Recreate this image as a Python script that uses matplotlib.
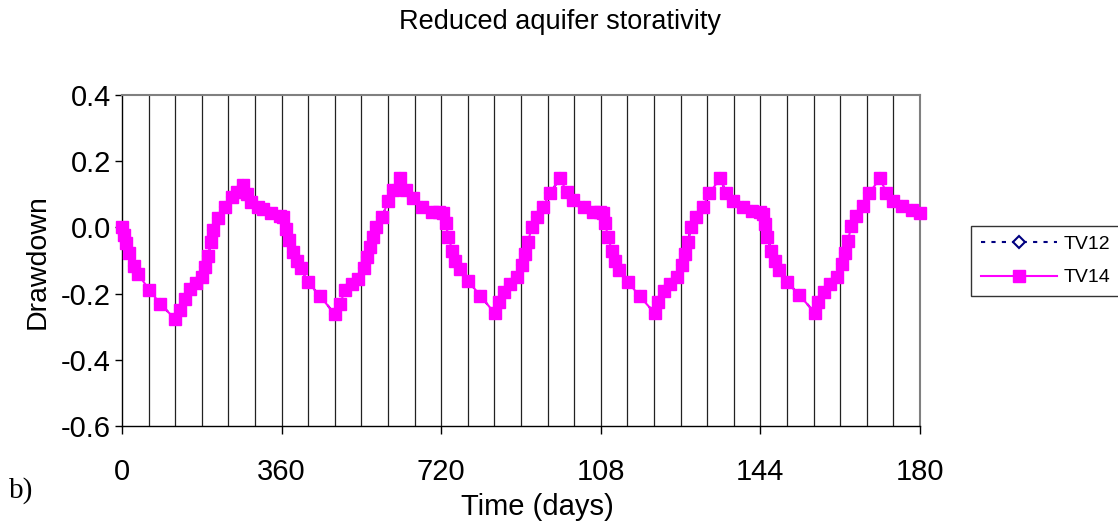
import matplotlib
matplotlib.use("Agg")
import matplotlib.pyplot as plt
from matplotlib.lines import Line2D

# ---------------- data ----------------
cycle1_t = [0, 5, 9, 16, 26, 36, 62, 86, 120, 131, 142, 153, 168, 180, 188, 195, 200, 206, 217, 232, 247, 259, 274, 282, 292, 306, 318, 336, 356]
cycle1_v = [0.000, -0.024, -0.047, -0.078, -0.118, -0.140, -0.190, -0.230, -0.278, -0.250, -0.215, -0.185, -0.168, -0.150, -0.120, -0.085, -0.045, -0.008, 0.027, 0.063, 0.093, 0.108, 0.128, 0.100, 0.078, 0.062, 0.055, 0.042, 0.034]

cycle2_t = [364, 371, 377, 386, 395, 404, 420, 447, 480, 492, 503, 518, 533, 545, 553, 559, 566, 574, 586, 601, 612, 628, 641, 657, 676, 699, 716]
cycle2_v = [0.030, -0.004, -0.038, -0.073, -0.100, -0.124, -0.166, -0.208, -0.262, -0.230, -0.190, -0.170, -0.155, -0.122, -0.088, -0.058, -0.028, 0.002, 0.030, 0.080, 0.113, 0.148, 0.113, 0.088, 0.063, 0.048, 0.047]

cycle3_t = [725, 730, 736, 745, 752, 762, 781, 808, 841, 850, 862, 876, 892, 903, 910, 916, 924, 935, 950, 965, 988, 1003, 1018, 1041, 1063, 1078]
cycle3_v = [0.045, 0.012, -0.028, -0.070, -0.100, -0.125, -0.162, -0.206, -0.260, -0.225, -0.195, -0.172, -0.150, -0.115, -0.080, -0.045, 0.002, 0.032, 0.063, 0.103, 0.148, 0.108, 0.083, 0.063, 0.048, 0.047]

cycle4_t = [1085, 1090, 1096, 1105, 1113, 1122, 1141, 1168, 1202, 1210, 1222, 1236, 1252, 1263, 1270, 1276, 1284, 1295, 1310, 1325, 1349, 1363, 1378, 1400, 1422, 1438]
cycle4_v = [0.045, 0.012, -0.028, -0.070, -0.100, -0.128, -0.165, -0.208, -0.260, -0.225, -0.192, -0.172, -0.150, -0.115, -0.080, -0.045, 0.002, 0.032, 0.063, 0.103, 0.148, 0.105, 0.080, 0.062, 0.050, 0.047]

cycle5_t = [1445, 1450, 1456, 1465, 1473, 1482, 1501, 1528, 1563, 1571, 1583, 1597, 1613, 1624, 1631, 1637, 1645, 1656, 1671, 1686, 1710, 1724, 1739, 1760, 1782, 1800]
cycle5_v = [0.040, 0.010, -0.030, -0.072, -0.100, -0.128, -0.165, -0.205, -0.258, -0.225, -0.195, -0.172, -0.150, -0.112, -0.078, -0.042, 0.003, 0.035, 0.065, 0.105, 0.148, 0.105, 0.080, 0.065, 0.052, 0.043]

x_tick_values = [0, 360, 720, 1080, 1440, 1800]
x_tick_labels = ["0", "360", "720", "108", "144", "180"]
y_tick_values = [-0.6, -0.4, -0.2, 0.0, 0.2, 0.4]
y_tick_labels = ["-0.6", "-0.4", "-0.2", "0.0", "0.2", "0.4"]
series_names = ["TV12", "TV14"]

# TV14 series
time14 = cycle1_t + cycle2_t + cycle3_t + cycle4_t + cycle5_t
tv14 = cycle1_v + cycle2_v + cycle3_v + cycle4_v + cycle5_v
# TV12 coincides with TV14 in the picture (hidden behind it)
time12 = time14
tv12 = tv14

# ---------------- figure ----------------
plt.rcParams["font.family"] = ["Liberation Sans", "DejaVu Sans"]
W, H = 1118, 527
fig = plt.figure(figsize=(W / 100, H / 100), dpi=100)
L, R, T, B = 122, 920, 95, 426
ax = fig.add_axes([L / W, 1 - B / H, (R - L) / W, (B - T) / H])

ax.set_xlim(0, 1800)
ax.set_ylim(-0.6, 0.4)

# vertical grid every 60 days
for gx in range(60, 1800, 60):
    ax.axvline(gx, color="#222222", lw=0.9, zorder=1)

navy = "#000080"
mag = "#FF00FF"
ax.plot(time12, tv12, color=navy, lw=1.5, ls=(0, (2, 3)), marker="D",
        markersize=5, markerfacecolor="white", markeredgecolor=navy,
        markeredgewidth=1.2, zorder=3, clip_on=False)
ax.plot(time14, tv14, color=mag, lw=1.5, marker="s", markersize=9,
        markerfacecolor=mag, markeredgecolor=mag, zorder=4, clip_on=False)

ax.set_xticks(x_tick_values)
ax.set_xticklabels(x_tick_labels)
ax.set_yticks(y_tick_values)
ax.set_yticklabels(y_tick_labels)
ax.tick_params(axis="x", direction="out", length=6, width=1, pad=17,
               labelsize=21, colors="black")
ax.tick_params(axis="y", direction="out", length=5, width=1, pad=3,
               labelsize=21, colors="black")

for s in ["left", "bottom"]:
    ax.spines[s].set_color("black")
    ax.spines[s].set_linewidth(1.0)
for s in ["top", "right"]:
    ax.spines[s].set_color("#808080")
    ax.spines[s].set_linewidth(1.5)

fig.text(560 / W, 1 - 22 / H, "Reduced aquifer storativity", ha="center",
         va="center", fontsize=19.5)
fig.text(38 / W, 1 - 262 / H, "Drawdown", ha="center", va="center",
         rotation=90, fontsize=20.5)
fig.text(537 / W, 1 - 507 / H, "Time (days)", ha="center", va="center",
         fontsize=21)
fig.text(9 / W, 1 - 491 / H, "b)", ha="left", va="center", fontsize=21,
         family=["Liberation Serif", "DejaVu Serif"])

handles = [
    Line2D([], [], color=navy, lw=1.5, ls=(0, (2, 3)), marker="D", markersize=6,
           markerfacecolor="white", markeredgecolor=navy, markeredgewidth=1.5),
    Line2D([], [], color=mag, lw=1.5, marker="s", markersize=9,
           markerfacecolor=mag, markeredgecolor=mag),
]
leg = fig.legend(handles, series_names, loc="center left",
                 bbox_to_anchor=(971 / W, 1 - 261 / H), fontsize=14,
                 frameon=True, fancybox=False, edgecolor="black",
                 handlelength=3.9, handletextpad=0.35, borderpad=0.5,
                 labelspacing=0.8, borderaxespad=0)
leg.get_frame().set_linewidth(1.0)

fig.savefig("out.png", dpi=100)
